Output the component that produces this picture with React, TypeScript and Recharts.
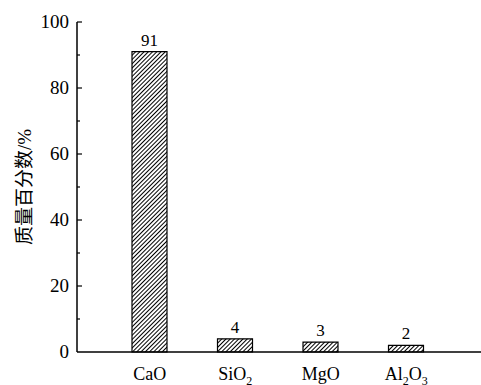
import { BarChart, Bar, XAxis, YAxis, LabelList, Label } from 'recharts'

const categories = ['CaO', 'SiO2', 'MgO', 'Al2O3']
const massPercent = [91, 4, 3, 2]
const yTicks = [0, 10, 20, 30, 40, 50, 60, 70, 80, 90, 100]
const yLabelTicks = [0, 20, 40, 60, 80, 100]

const chartData = categories.map((name, i) => ({ name, value: massPercent[i] }))

const FONT = 'Liberation Serif, Noto Sans CJK SC, serif'
const AXIS_X = 77

// digits in a formula are drawn as subscripts
function Formula({ text }: { text: string }) {
  const parts = text.match(/[A-Za-z]+|\d+/g) || []
  return (
    <>
      {parts.map((p, i) =>
        /\d/.test(p) ? (
          <tspan key={i} fontSize={12} dy={5}>{p}</tspan>
        ) : (
          <tspan key={i} dy={i > 0 && /\d/.test(parts[i - 1]) ? -5 : 0}>{p}</tspan>
        )
      )}
    </>
  )
}

function XTick(props: any) {
  const { x, y, payload } = props
  return (
    <text x={x} y={y + 20} textAnchor="middle" style={{ fontSize: 18, fontFamily: FONT }} fill="#000">
      <Formula text={payload.value} />
    </text>
  )
}

function YTick(props: any) {
  const { y, payload } = props
  const major = yLabelTicks.includes(payload.value)
  return (
    <g>
      {payload.value !== 0 && (
        <line x1={AXIS_X} x2={AXIS_X + (major ? 5 : 3)} y1={y} y2={y} stroke="#000" strokeWidth={1.2} />
      )}
      {major && (
        <text x={AXIS_X - 8} y={y} dy={6} textAnchor="end" style={{ fontSize: 19, fontFamily: FONT }} fill="#000">
          {payload.value}
        </text>
      )}
    </g>
  )
}

function ValueLabel(props: any) {
  const { x, y, width, value } = props
  return (
    <text x={x + width / 2} y={y - 6} textAnchor="middle" style={{ fontSize: 17, fontFamily: FONT }} fill="#000">
      {value}
    </text>
  )
}

function YTitle(props: any) {
  const { viewBox } = props
  const cy = viewBox.y + viewBox.height / 2
  return (
    <text
      x={24}
      y={cy}
      transform={`rotate(-90 24 ${cy})`}
      textAnchor="middle"
      dominantBaseline="central"
      style={{ fontSize: 19, fontFamily: FONT }}
      fill="#000"
    >
      质量百分数/%
    </text>
  )
}

export default function App() {
  return (
    <div style={{ position: 'absolute', left: 0, top: 0, background: '#fff', fontFamily: FONT }}>
      <BarChart
        width={481}
        height={385}
        data={chartData}
        margin={{ top: 22, right: 0, bottom: 3, left: 0 }}
      >
        <defs>
          <pattern id="hatch" patternUnits="userSpaceOnUse" width={3} height={3} patternTransform="rotate(45)">
            <rect width={3} height={3} fill="#fff" />
            <line x1={0.5} y1={0} x2={0.5} y2={3} stroke="#000" strokeWidth={1} />
          </pattern>
        </defs>
        <XAxis
          dataKey="name"
          height={30}
          tickLine={false}
          axisLine={{ stroke: '#000', strokeWidth: 1.5 }}
          tick={<XTick />}
          padding={{ left: 30, right: 32 }}
          interval={0}
        />
        <YAxis
          width={AXIS_X}
          domain={[0, 100]}
          ticks={yTicks}
          interval={0}
          tickLine={false}
          axisLine={{ stroke: '#000', strokeWidth: 1.5 }}
          tick={<YTick />}
        >
          <Label content={<YTitle />} />
        </YAxis>
        <Bar dataKey="value" barSize={35} fill="url(#hatch)" stroke="#000" strokeWidth={1.2} isAnimationActive={false}>
          <LabelList dataKey="value" content={<ValueLabel />} />
        </Bar>
      </BarChart>
    </div>
  )
}
